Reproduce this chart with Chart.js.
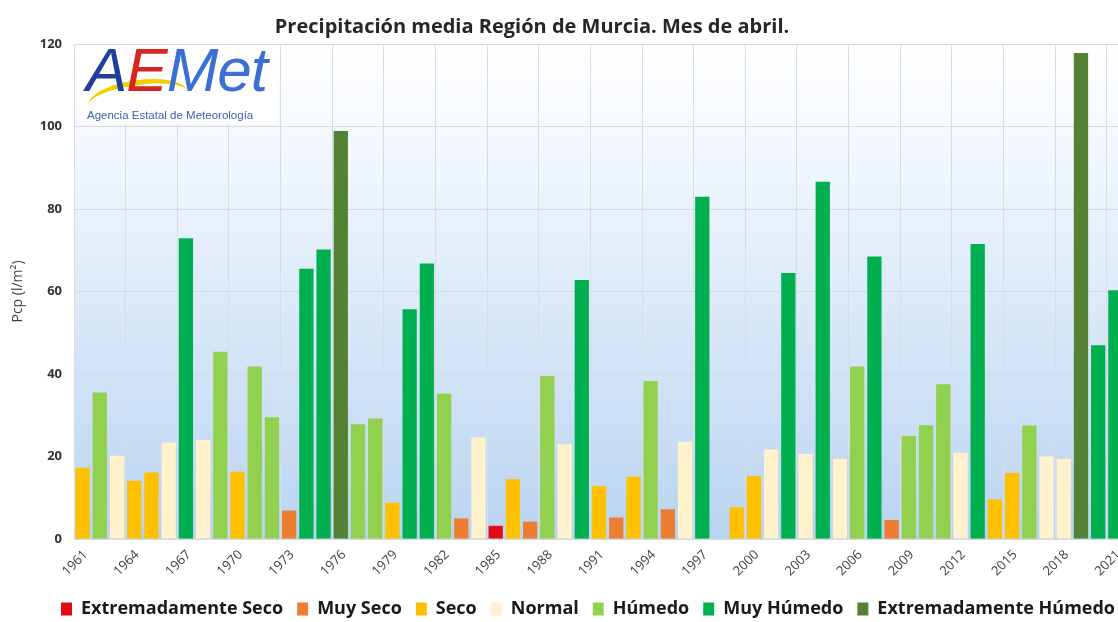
<!DOCTYPE html>
<html>
<head>
<meta charset="utf-8">
<script src="https://cdn.jsdelivr.net/npm/chart.js@4"></script>
<style>
  html, body { margin: 0; padding: 0; background: #fff; overflow: hidden; }
  #wrap { position: relative; width: 1176px; height: 628px; }
  #title { position: absolute; left: 0; top: 12px; width: 1064px; text-align: center;
    font: bold 20px "Open Sans", sans-serif; color: #262626; }
  #logo { position: absolute; left: 80px; top: 46px; width: 198px; height: 78px; background: #fff; }
  #logo .big { position: absolute; left: 6px; top: -12px; font: italic 62px "Liberation Sans", sans-serif; letter-spacing: -1px; }
  #logo .swoosh { position: absolute; left: 8px; top: 34px; width: 100px; height: 32px;
    border-top: 5px solid #f3cf00; border-radius: 50%; transform: rotate(-8deg); }
  #logo .sub { position: absolute; left: 7px; top: 63px; font: 11.5px "Liberation Sans", sans-serif; color: #3b5eb5; }
</style>
</head>
<body>
<div id="wrap">
  <canvas id="chart" width="1176" height="628"></canvas>
  <div id="title">Precipitación media Región de Murcia. Mes de abril.</div>
  <div id="logo">
    <div class="swoosh"></div>
    <span class="big"><span style="color:#1f3e9e">A</span><span style="color:#d7261e">E</span><span style="color:#3c6fd6">Met</span></span>
    <span class="sub">Agencia Estatal de Meteorología</span>
  </div>
</div>
<script>
const years = [1961, 1962, 1963, 1964, 1965, 1966, 1967, 1968, 1969, 1970,
  1971, 1972, 1973, 1974, 1975, 1976, 1977, 1978, 1979, 1980,
  1981, 1982, 1983, 1984, 1985, 1986, 1987, 1988, 1989, 1990,
  1991, 1992, 1993, 1994, 1995, 1996, 1997, 1998, 1999, 2000,
  2001, 2002, 2003, 2004, 2005, 2006, 2007, 2008, 2009, 2010,
  2011, 2012, 2013, 2014, 2015, 2016, 2017, 2018, 2019, 2020, 2021];

// precipitación media (l/m2) de abril
const pcp = [17.3, 35.5, 20.2, 14.1, 16.1, 23.4, 72.9, 24.0, 45.4, 16.3,
  41.8, 29.5, 6.9, 65.5, 70.2, 98.9, 27.8, 29.2, 8.8, 55.7,
  66.8, 35.3, 5.0, 24.6, 3.2, 14.5, 4.2, 39.5, 23.0, 62.8,
  12.8, 5.2, 15.1, 38.3, 7.2, 23.6, 83.0, null, 7.7, 15.3,
  21.7, 64.5, 20.6, 86.6, 19.4, 41.8, 68.5, 4.6, 25.0, 27.6,
  37.5, 20.9, 71.5, 9.6, 16.0, 27.5, 20.0, 19.4, 117.8, 47.0, 60.3];

const categories = ["Extremadamente Seco", "Muy Seco", "Seco", "Normal",
  "Húmedo", "Muy Húmedo", "Extremadamente Húmedo"];
const catColors = ["#e50b12", "#ed7d31", "#ffc000", "#fff2cc",
  "#92d050", "#00b050", "#548235"];

// carácter de cada año (índice en categories)
const yearClass = [2, 4, 3, 2, 2, 3, 5, 3, 4, 2,
  4, 4, 1, 5, 5, 6, 4, 4, 2, 5,
  5, 4, 1, 3, 0, 2, 1, 4, 3, 5,
  2, 1, 2, 4, 1, 3, 5, null, 2, 2,
  3, 5, 3, 5, 3, 4, 5, 1, 4, 4,
  4, 3, 5, 2, 2, 4, 3, 3, 6, 5, 5];

const yTicks = [0, 20, 40, 60, 80, 100, 120];

const datasets = categories.map((name, k) => ({
  label: name,
  data: pcp.map((v, i) => (yearClass[i] === k ? v : null)),
  backgroundColor: catColors[k],
  borderWidth: 0,
}));

const plotBackground = {
  id: "plotBackground",
  beforeDraw(chart) {
    const { ctx, chartArea: a } = chart;
    const g = ctx.createLinearGradient(0, a.top, 0, a.bottom);
    g.addColorStop(0, "#ffffff");
    g.addColorStop(0.2, "#f3f8fe");
    g.addColorStop(1, "#b9d4f1");
    ctx.save();
    ctx.fillStyle = g;
    ctx.fillRect(a.left, a.top, a.width, a.height);
    ctx.restore();
  },
};

new Chart(document.getElementById("chart"), {
  type: "bar",
  data: { labels: years.map(String), datasets: datasets },
  options: {
    responsive: false,
    animation: false,
    layout: { padding: { top: 44, bottom: 0, left: 0, right: 0 } },
    datasets: { bar: { grouped: false, categoryPercentage: 1, barPercentage: 0.83 } },
    plugins: {
      title: { display: false },
      tooltip: { enabled: false },
      legend: {
        position: "bottom",
        labels: {
          boxWidth: 11,
          boxHeight: 13,
          padding: 14,
          color: "#1a1a1a",
          font: { family: "Open Sans", size: 18, weight: "bold" },
        },
      },
    },
    scales: {
      x: {
        afterFit: (s) => { s.height = 47; },
        grid: {
          offset: true,
          drawTicks: false,
          color: (c) => (c.index % 3 === 0 ? "#d6dde6" : "rgba(0,0,0,0)"),
        },
        border: { display: false },
        ticks: {
          autoSkip: false,
          minRotation: 45,
          maxRotation: 45,
          padding: 8,
          labelOffset: 3,
          color: "#404040",
          font: { family: "Open Sans", size: 13 },
          callback: (v, i) => (i % 3 === 0 ? years[i] : ""),
        },
      },
      y: {
        min: 0,
        max: 120,
        afterFit: (s) => { s.width = 74; },
        afterBuildTicks: (s) => { s.ticks = yTicks.map((v) => ({ value: v })); },
        grid: { color: "#d9d9d9", drawTicks: false },
        border: { display: false },
        ticks: {
          padding: 12,
          color: "#333",
          font: { family: "Open Sans", size: 13, weight: "bold" },
        },
        title: {
          display: true,
          text: "Pcp (l/m²)",
          color: "#404040",
          padding: { top: 10, bottom: 0 },
          font: { family: "Open Sans", size: 14 },
        },
      },
      y2: {
        position: "right",
        afterFit: (s) => { s.width = 52; },
        grid: { display: false },
        border: { display: false },
        ticks: { display: false },
      },
    },
  },
  plugins: [plotBackground],
});
</script>
</body>
</html>
